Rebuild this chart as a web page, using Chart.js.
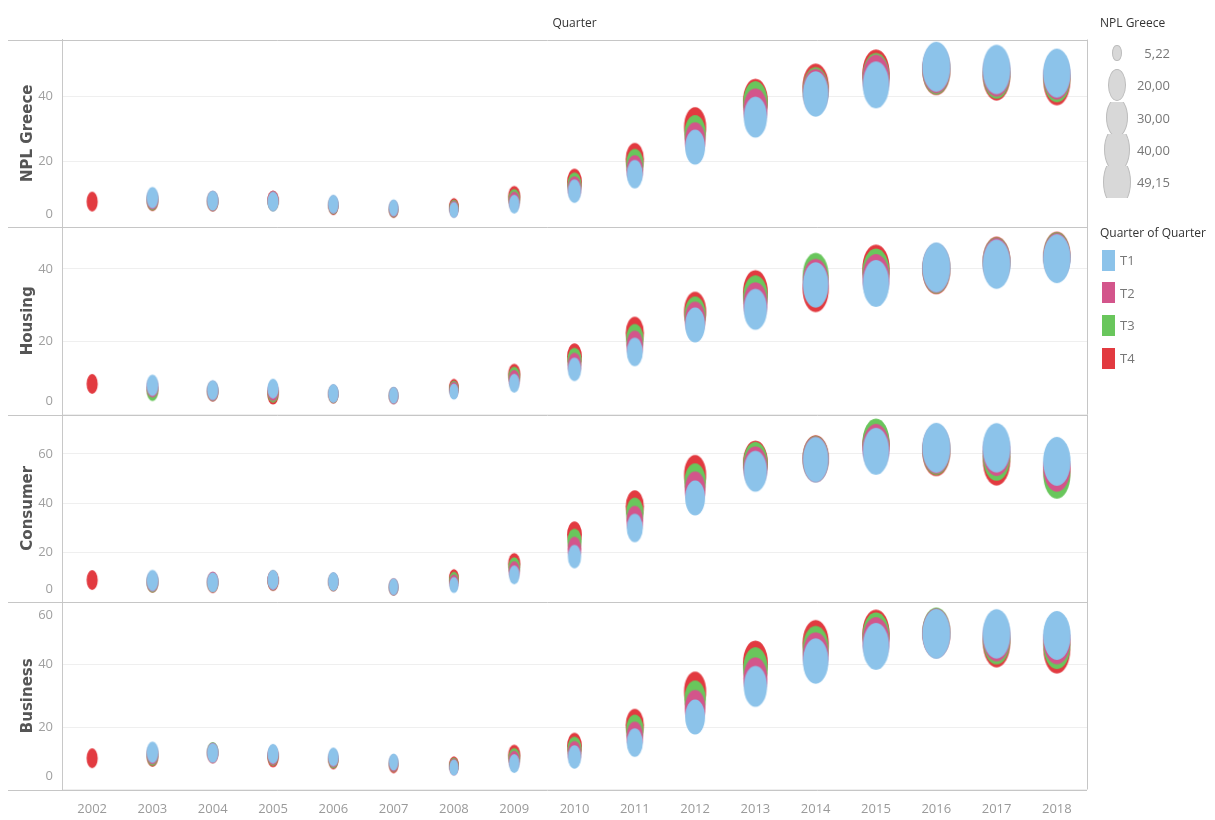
<!DOCTYPE html>
<html>
<head>
<meta charset="utf-8">
<script src="https://cdn.jsdelivr.net/npm/chart.js@4/dist/chart.umd.min.js"></script>
<style>
html,body{margin:0;padding:0;background:#fff;}
#wrap{position:relative;width:1215px;height:820px;overflow:hidden;background:#fff;}
#c{position:absolute;left:0;top:0;}
.lg{position:absolute;font-family:'Open Sans',sans-serif;white-space:nowrap;}
.ttl{font-size:12px;color:#333;line-height:17px;}
.row{position:absolute;overflow:hidden;}
.ell{position:absolute;border-radius:50%;background:#d8d8d8;border:1px solid #bdbdbd;box-sizing:border-box;}
.val{position:absolute;font-size:13px;color:#777;}
.sq{position:absolute;}
</style>
</head>
<body>
<div id="wrap">
<canvas id="c" width="1215" height="820"></canvas>
<div id="legend"></div>
</div>
<script>
// ---------- categories ----------
const years = ['2002','2003','2004','2005','2006','2007','2008','2009','2010','2011','2012','2013','2014','2015','2016','2017','2018'];
const quarters = ['T1','T2','T3','T4'];
const quarterColors = ['#8cc3ea','#d3558b','#69c65c','#e23a40'];

// ---------- NPL Greece (also drives bubble size) ----------
const nplT1 = [null, 9.0, 8.1, 7.8, 7.0, 5.9, 5.22, 7.0, 11.0, 16.2, 24.5, 33.7, 40.8, 43.6, 49.15, 48.3, 47.2];
const nplT2 = [null, 8.5, 8.0, 8.0, 6.8, 5.6, 5.5, 7.8, 11.8, 17.5, 26.5, 36.0, 41.5, 45.5, 48.6, 47.5, 46.5];
const nplT3 = [null, 8.2, 7.9, 7.9, 6.6, 5.4, 5.8, 8.5, 12.8, 19.2, 28.5, 38.0, 42.0, 46.0, 48.2, 46.8, 45.6];
const nplT4 = [7.8, 7.9, 7.8, 8.1, 6.4, 5.3, 6.2, 9.3, 13.8, 20.8, 30.7, 38.7, 43.0, 47.0, 48.0, 46.2, 44.6];

// ---------- Housing ----------
const housingT1 = [null, 8.0, 6.7, 7.1, 5.8, 5.3, 6.3, 8.6, 12.4, 17.2, 24.6, 28.9, 35.6, 36.0, 40.4, 41.3, 42.8];
const housingT2 = [null, 7.5, 6.5, 6.5, 5.7, 5.2, 6.7, 9.5, 13.6, 19.0, 26.0, 30.5, 36.5, 37.5, 40.2, 41.8, 43.2];
const housingT3 = [null, 6.5, 6.4, 6.0, 5.6, 5.2, 7.0, 10.3, 14.8, 20.6, 27.2, 32.2, 38.1, 39.0, 40.0, 42.0, 43.5];
const housingT4 = [8.4, 6.8, 6.3, 5.5, 5.5, 5.1, 7.4, 11.0, 15.9, 22.4, 28.3, 33.6, 34.5, 40.0, 39.8, 42.2, 43.7];

// ---------- Consumer ----------
const consumerT1 = [null, 8.7, 8.0, 9.0, 8.3, 6.2, 6.9, 11.0, 18.4, 30.0, 42.2, 53.0, 57.7, 61.1, 62.5, 62.5, 57.0];
const consumerT2 = [null, 8.3, 8.3, 8.8, 8.2, 6.1, 7.8, 12.5, 21.5, 33.0, 45.5, 54.5, 57.8, 62.5, 62.0, 61.0, 54.5];
const consumerT3 = [null, 8.0, 8.0, 8.7, 8.1, 6.0, 8.8, 14.0, 24.5, 36.0, 48.5, 56.0, 58.0, 64.6, 61.5, 59.0, 51.6];
const consumerT4 = [8.9, 7.8, 7.6, 8.6, 8.0, 6.0, 9.8, 15.5, 27.3, 38.7, 51.6, 56.5, 58.2, 63.5, 61.0, 57.0, 53.0];

// ---------- Business ----------
const businessT1 = [null, 11.9, 11.7, 11.4, 10.4, 8.8, 7.0, 8.3, 10.4, 15.0, 23.2, 33.0, 41.1, 45.8, 49.8, 49.8, 49.3];
const businessT2 = [null, 11.3, 11.8, 11.0, 10.0, 8.4, 7.2, 9.2, 11.6, 17.0, 26.0, 35.5, 43.0, 47.5, 50.0, 48.8, 47.8];
const businessT3 = [null, 10.8, 12.0, 10.7, 9.6, 8.2, 7.5, 10.0, 12.8, 19.0, 28.8, 38.5, 45.0, 49.0, 50.3, 47.8, 46.2];
const businessT4 = [10.0, 10.4, 11.5, 10.3, 9.3, 7.8, 7.8, 10.9, 13.9, 20.6, 31.4, 40.6, 46.8, 49.8, 50.0, 46.8, 44.7];

// ---------- tick labels ----------
const nplTicks = [0, 20, 40];
const housingTicks = [0, 20, 40];
const consumerTicks = [0, 20, 40, 60];
const businessTicks = [0, 20, 40, 60];
const sizeLegendValues = [5.22, 20, 30, 40, 49.15];

// ---------- build ----------
const nplSize = [nplT1, nplT2, nplT3, nplT4];
const panels = [
  {id:'yNPL', title:'NPL Greece', series:[nplT1,nplT2,nplT3,nplT4], ticks:nplTicks, max:57.5},
  {id:'yHou', title:'Housing', series:[housingT1,housingT2,housingT3,housingT4], ticks:housingTicks, max:51.5},
  {id:'yCon', title:'Consumer', series:[consumerT1,consumerT2,consumerT3,consumerT4], ticks:consumerTicks, max:76},
  {id:'yBus', title:'Business', series:[businessT1,businessT2,businessT3,businessT4], ticks:businessTicks, max:60}
];

const KW = 4.0, KH = 7.1; // ellipse width/height per sqrt(value)
const ellCache = {};
function ellipse(w, h, color) {
  const key = w.toFixed(1) + '_' + h.toFixed(1) + color;
  if (ellCache[key]) return ellCache[key];
  const c = document.createElement('canvas');
  const W = Math.ceil(w) + 2, H = Math.ceil(h) + 2;
  c.width = W; c.height = H;
  const g = c.getContext('2d');
  g.fillStyle = color;
  g.beginPath();
  g.ellipse(W / 2, H / 2, w / 2, h / 2, 0, 0, Math.PI * 2);
  g.fill();
  ellCache[key] = c;
  return c;
}

const datasets = [];
panels.forEach(p => {
  p.series.forEach((arr, q) => {
    const data = [];
    arr.forEach((v, i) => { if (v !== null) data.push({x: years[i], y: v, s: nplSize[q][i]}); });
    datasets.push({
      type: 'bubble',
      label: p.title + ' ' + quarters[q],
      data: data,
      xAxisID: 'x',
      yAxisID: p.id,
      order: q + 1,
      backgroundColor: quarterColors[q],
      borderWidth: 0,
      radius: ctx => (ctx.raw && ctx.raw.s) ? KW * Math.sqrt(ctx.raw.s) / 2 : 3,
      pointStyle: ctx => (ctx.raw && ctx.raw.s) ? ellipse(KW * Math.sqrt(ctx.raw.s), KH * Math.sqrt(ctx.raw.s), quarterColors[q]) : 'circle'
    });
  });
});

const FAM = "'Open Sans', sans-serif";
const scales = {
  x: {
    type: 'category', labels: years, offset: true, position: 'bottom',
    grid: {display: false, drawTicks: false}, border: {display: false},
    ticks: {color: '#9a9a9a', padding: 12, maxRotation: 0, autoSkip: false, font: {family: FAM, size: 13}},
    afterFit: s => { s.height = 30.5; }
  },
  xTop: {
    type: 'category', labels: years, offset: true, position: 'top',
    grid: {display: false, drawTicks: false}, border: {display: false},
    ticks: {display: false},
    title: {display: true, text: 'Quarter', color: '#333', font: {family: FAM, size: 12}, padding: {top: 16, bottom: 0}},
    afterFit: s => { s.height = 39.5; }
  }
};
panels.slice().reverse().forEach(p => {
  scales[p.id] = {
    type: 'linear', position: 'left', stack: 'panels', stackWeight: 1,
    min: 0, max: p.max,
    afterBuildTicks: s => { s.ticks = p.ticks.map(v => ({value: v})); },
    afterFit: s => { s.width = 62; },
    grid: {color: '#efefef', drawTicks: false, lineWidth: 1},
    border: {display: true, color: '#c8c8c8'},
    ticks: {
      color: '#a0a0a0', padding: 9, autoSkip: false,
      font: {family: FAM, size: 13, lineHeight: 1},
      callback: function(v) {
        const lbl = String(v);
        if (v === this.min) return [lbl, '', ''];
        if (v === this.max) return ['', '', lbl];
        return lbl;
      }
    },
    title: {display: true, text: p.title, color: '#555', font: {family: "'DejaVu Sans', sans-serif", size: 15, weight: 'bold'}, padding: {top: 19, bottom: 0}}
  };
});

const framePlugin = {
  id: 'frame',
  beforeDatasetsDraw(chart) {
    const {ctx, chartArea} = chart;
    ctx.save();
    ctx.strokeStyle = '#c6c6c6';
    ctx.lineWidth = 1;
    const ys = [];
    panels.forEach(p => { const s = chart.scales[p.id]; ys.push(s.top, s.bottom); });
    const seen = {};
    ys.forEach(y => {
      const yy = Math.round(y) + 0.5;
      if (seen[yy]) return; seen[yy] = 1;
      ctx.beginPath(); ctx.moveTo(8, yy); ctx.lineTo(chartArea.right, yy); ctx.stroke();
    });
    const xr = Math.round(chartArea.right) + 0.5;
    ctx.beginPath(); ctx.moveTo(xr, chartArea.top); ctx.lineTo(xr, chartArea.bottom); ctx.stroke();
    ctx.restore();
  }
};

new Chart(document.getElementById('c'), {
  type: 'bubble',
  data: {datasets: datasets},
  options: {
    responsive: false,
    animation: false,
    devicePixelRatio: 1,
    events: [],
    layout: {padding: {left: 0, right: 128, top: 0, bottom: 0}},
    scales: scales,
    plugins: {legend: {display: false}, tooltip: {enabled: false}, title: {display: false}}
  },
  plugins: [framePlugin]
});

// ---------- HTML legend ----------
const lg = document.getElementById('legend');
function add(html) { lg.insertAdjacentHTML('beforeend', html); }
add('<div class="lg ttl" style="left:1100px;top:14px;">NPL Greece</div>');
sizeLegendValues.forEach((v, i) => {
  const cy = 53 + i * 32.3;
  const w = KW * Math.sqrt(v), h = KH * Math.sqrt(v);
  const rowLeft = 1095, rowW = 80, rowH = 32;
  add('<div class="lg row" style="left:' + rowLeft + 'px;top:' + (cy - rowH / 2) + 'px;width:' + rowW + 'px;height:' + rowH + 'px;">' +
      '<div class="ell" style="left:' + (1117 - rowLeft - w / 2) + 'px;top:' + (rowH / 2 - h / 2) + 'px;width:' + w + 'px;height:' + h + 'px;"></div>' +
      '<div class="val" style="right:5px;top:0;line-height:' + rowH + 'px;">' + v.toFixed(2).replace('.', ',') + '</div></div>');
});
add('<div class="lg ttl" style="left:1100px;top:224px;">Quarter of Quarter</div>');
quarters.forEach((q, i) => {
  const cy = 260 + i * 32.7;
  add('<div class="lg sq" style="left:1102px;top:' + (cy - 10.5) + 'px;width:13px;height:21px;background:' + quarterColors[i] + ';"></div>');
  add('<div class="lg val" style="left:1120px;top:' + (cy - 10) + 'px;line-height:20px;">' + q + '</div>');
});
</script>
</body>
</html>
